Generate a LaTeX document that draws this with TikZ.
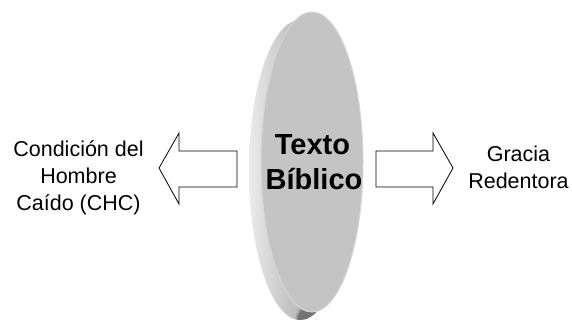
\documentclass[tikz,border=0pt]{standalone}
\usepackage{fontspec}
\setmainfont{Liberation Sans}
\usetikzlibrary{fadings}
\begin{document}
\begin{tikzpicture}[x=1pt,y=-1pt,
  blockarrow/.style={draw=black,fill=white,line width=0.8pt,line join=miter},
  lbl/.style={anchor=base,inner sep=0pt,font=\fontsize{21.5}{26}\selectfont},
  title/.style={anchor=base,inner sep=0pt,font=\fontsize{29}{35}\selectfont\bfseries}]
\useasboundingbox (0,0) rectangle (572,321);
% disc rim (back face)
\shade[left color=black!8,right color=black!48] (300,170) ellipse [x radius=51pt,y radius=150pt];
\begin{scope}
  \clip (300,170) ellipse [x radius=51pt,y radius=150pt];
  \fill[black!55,path fading=circle with fuzzy edge 15 percent] (316,322) circle [radius=22pt];
\end{scope}
% disc front face
\fill[black!23,draw=black!16,line width=1pt] (312,162) ellipse [x radius=51pt,y radius=150pt];
\node[coordinate] (disc) at (312,162) {};
% arrows
\draw[blockarrow] (159,168) -- (179,133) -- (179,151) -- (237,151) -- (237,187) -- (179,187) -- (179,204) -- cycle;
\draw[blockarrow] (453,168) -- (433,133) -- (433,151) -- (376,151) -- (376,187) -- (433,187) -- (433,204) -- cycle;
% texts
\node[title] (t1) at (312.5,154.3) {Texto};
\node[title] (t2) at (314,189.5) {Bíblico};
\node[lbl] (l1) at (78.5,156.7) {Condición del};
\node[lbl] (l2) at (78.5,183.3) {Hombre};
\node[lbl] (l3) at (78.5,210) {Caído (CHC)};
\node[lbl] (r1) at (518.5,161.7) {Gracia};
\node[lbl] (r2) at (518.5,188.3) {Redentora};
\end{tikzpicture}
\end{document}
